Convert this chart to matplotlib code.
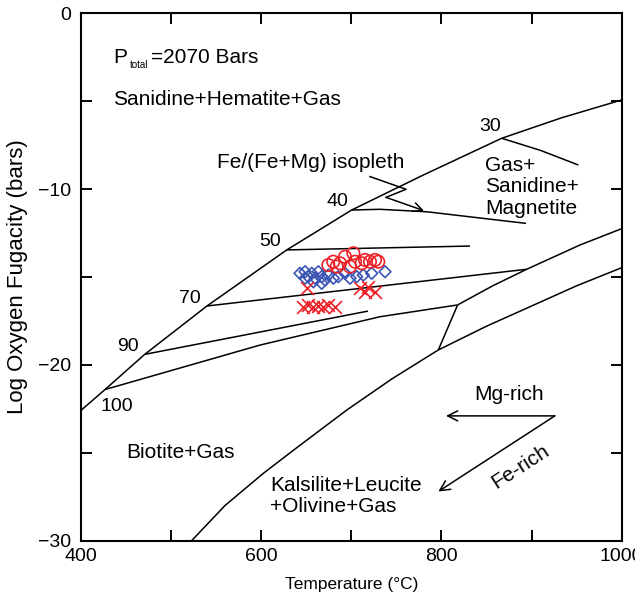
import matplotlib
matplotlib.use("Agg")
import matplotlib.pyplot as plt
from matplotlib.ticker import FixedLocator, FixedFormatter

plt.rcParams['font.family'] = ['Liberation Sans', 'DejaVu Sans']

# ---- phase boundaries (Temperature in deg C, log fO2 in bars) ----
upper_T = [400, 427, 471, 540, 628.5, 700.5, 780, 866.9, 933, 1000]
upper_y = [-22.6, -21.4, -19.4, -16.65, -13.46, -11.19, -9.2, -7.11, -5.95, -4.93]

lower_T = [523, 560, 602.5, 636, 695, 745, 796.6, 850, 898.3, 950, 1001]
lower_y = [-30.0, -28.0, -26.17, -24.85, -22.57, -20.8, -19.15, -17.8, -16.69, -15.5, -14.45]

magnetite_T = [818, 857, 894.6, 953.7, 1001]
magnetite_y = [-16.59, -15.5, -14.56, -13.18, -12.23]

tie_T = [818, 796.6]
tie_y = [-16.59, -19.15]

# ---- Fe/(Fe+Mg) isopleths ----
iso30_T = [866.9, 910, 951.9]
iso30_y = [-7.11, -7.8, -8.63]
iso40_T = [700.5, 731.9, 783.7, 893.9]
iso40_y = [-11.19, -11.15, -11.29, -11.95]
iso50_T = [628.5, 831.7]
iso50_y = [-13.46, -13.24]
iso70_T = [540, 894.6]
iso70_y = [-16.65, -14.56]
iso90_T = [471, 718.6]
iso90_y = [-19.4, -16.94]
iso100_T = [427, 599, 731.9, 818]
iso100_y = [-21.4, -18.87, -17.26, -16.59]

iso_labels = ["30", "40", "50", "70", "90", "100"]
iso_label_T = [854, 684.6, 610, 521.2, 452.8, 439.9]
iso_label_y = [-6.45, -10.72, -12.99, -16.21, -18.97, -22.38]

# ---- measured samples ----
circle_T = [674.6, 680.1, 687.6, 693.1, 702.4, 704.2, 698.7, 711.6, 715.3, 720.8, 726.4, 730.0, 683.9]
circle_y = [-14.32, -14.13, -14.22, -13.85, -13.65, -14.13, -14.41, -14.22, -14.03, -14.13, -14.03, -14.13, -14.41]

diamond_T = [643.2, 648.8, 652.4, 656.2, 660.0, 663.5, 667.3, 671.0, 674.6, 680.2, 685.7,
             693.1, 698.7, 706.1, 713.4, 722.7, 737.5, 648.8, 658.0, 667.3]
diamond_y = [-14.79, -14.70, -14.98, -14.79, -15.07, -14.70, -14.98, -15.17, -14.89, -15.07, -14.98,
             -14.79, -15.07, -14.98, -14.89, -14.79, -14.70, -15.07, -15.27, -15.36]

cross_T = [650.6, 709.7, 719.0, 715.3, 726.4, 646.9, 652.4, 658.0, 663.5, 669.1, 674.6, 682.0]
cross_y = [-15.64, -15.64, -15.55, -15.84, -15.84, -16.69, -16.59, -16.69, -16.65, -16.69, -16.59, -16.69]

# ---- pointer for the isopleth label ----
pointer_T = [720.8, 760.8, 738.6, 780.7]
pointer_y = [-9.29, -10.01, -10.47, -11.23]

RED = '#ec2128'
BLUE = '#3c55b4'
LW = 1.1

fig = plt.figure(figsize=(6.35, 5.98), dpi=100)
ax = fig.add_axes([0.1271, 0.0958, 0.8520, 0.8820])

for T, y in [(upper_T, upper_y), (lower_T, lower_y), (magnetite_T, magnetite_y), (tie_T, tie_y),
             (iso30_T, iso30_y), (iso40_T, iso40_y), (iso50_T, iso50_y), (iso70_T, iso70_y),
             (iso90_T, iso90_y), (iso100_T, iso100_y)]:
    ax.plot(T, y, color='black', lw=LW, solid_capstyle='butt')

for lab, t, y in zip(iso_labels, iso_label_T, iso_label_y):
    ax.text(t, y, lab, fontsize=14, ha='center', va='center')

# samples
ax.scatter(diamond_T, diamond_y, marker='D', s=36, facecolors='none', edgecolors=BLUE, linewidths=1.2, zorder=3)
ax.scatter(circle_T, circle_y, marker='o', s=80, facecolors='none', edgecolors=RED, linewidths=1.2, zorder=4)
ax.scatter(cross_T, cross_y, marker='x', s=85, color=RED, linewidths=1.2, zorder=4)

# isopleth pointer
ax.plot(pointer_T[:-1], pointer_y[:-1], color='black', lw=LW)
ax.annotate('', xy=(pointer_T[-1], pointer_y[-1]), xytext=(pointer_T[-2], pointer_y[-2]),
            arrowprops=dict(arrowstyle='->', color='black', lw=LW, mutation_scale=16,
                            shrinkA=0, shrinkB=0))

# Mg-rich / Fe-rich direction arrows
ax.annotate('', xy=(805.1, -22.9), xytext=(925.8, -22.9),
            arrowprops=dict(arrowstyle='->', color='black', lw=LW, mutation_scale=18,
                            shrinkA=0, shrinkB=0))
ax.annotate('', xy=(796.6, -27.2), xytext=(925.8, -22.9),
            arrowprops=dict(arrowstyle='->', color='black', lw=LW, mutation_scale=18,
                            shrinkA=0, shrinkB=0))

# field labels
ax.text(435.9, -2.54, 'P', fontsize=15, ha='left', va='center')
ax.text(454.0, -2.95, 'total', fontsize=7, ha='left', va='center')
ax.text(478.0, -2.54, '=2070 Bars', fontsize=15, ha='left', va='center')
ax.text(435.9, -4.93, 'Sanidine+Hematite+Gas', fontsize=15, ha='left', va='center')
ax.text(550.8, -8.49, 'Fe/(Fe+Mg) isopleth', fontsize=15, ha='left', va='center')
ax.text(848.4, -8.64, 'Gas+', fontsize=15, ha='left', va='center')
ax.text(848.4, -9.86, 'Sanidine+', fontsize=15, ha='left', va='center')
ax.text(848.4, -11.09, 'Magnetite', fontsize=15, ha='left', va='center')
ax.text(450.3, -24.96, 'Biotite+Gas', fontsize=15, ha='left', va='center')
ax.text(610.0, -26.87, 'Kalsilite+Leucite', fontsize=15, ha='left', va='center')
ax.text(610.0, -28.08, '+Olivine+Gas', fontsize=15, ha='left', va='center')
ax.text(875.5, -21.66, 'Mg-rich', fontsize=15, ha='center', va='center')
ax.text(887.2, -25.79, 'Fe-rich', fontsize=15, ha='center', va='center', rotation=33)

# axes
ax.set_xlim(400, 1000)
ax.set_ylim(-30, 0)
x_ticks = [400, 500, 600, 700, 800, 900, 1000]
x_labels = ['400', '', '600', '', '800', '', '1000']
y_ticks = [-30, -25, -20, -15, -10, -5, 0]
y_labels = ['\u221230', '', '\u221220', '', '\u221210', '', '0']
ax.xaxis.set_major_locator(FixedLocator(x_ticks))
ax.xaxis.set_major_formatter(FixedFormatter(x_labels))
ax.yaxis.set_major_locator(FixedLocator(y_ticks))
ax.yaxis.set_major_formatter(FixedFormatter(y_labels))
ax.tick_params(axis='both', which='major', direction='in', length=8, width=1.4,
               top=True, right=True, labelsize=14)
ax.tick_params(axis='x', pad=5)
ax.tick_params(axis='y', pad=7)
for sp in ax.spines.values():
    sp.set_linewidth(1.5)

ax.set_xlabel('Temperature (\u00b0C)', fontsize=12.5)
ax.set_ylabel('Log Oxygen Fugacity (bars)', fontsize=16)
ax.xaxis.set_label_coords(0.5015, -0.0685)
ax.yaxis.set_label_coords(-0.098, 0.5)

fig.savefig('out.png', dpi=100)
